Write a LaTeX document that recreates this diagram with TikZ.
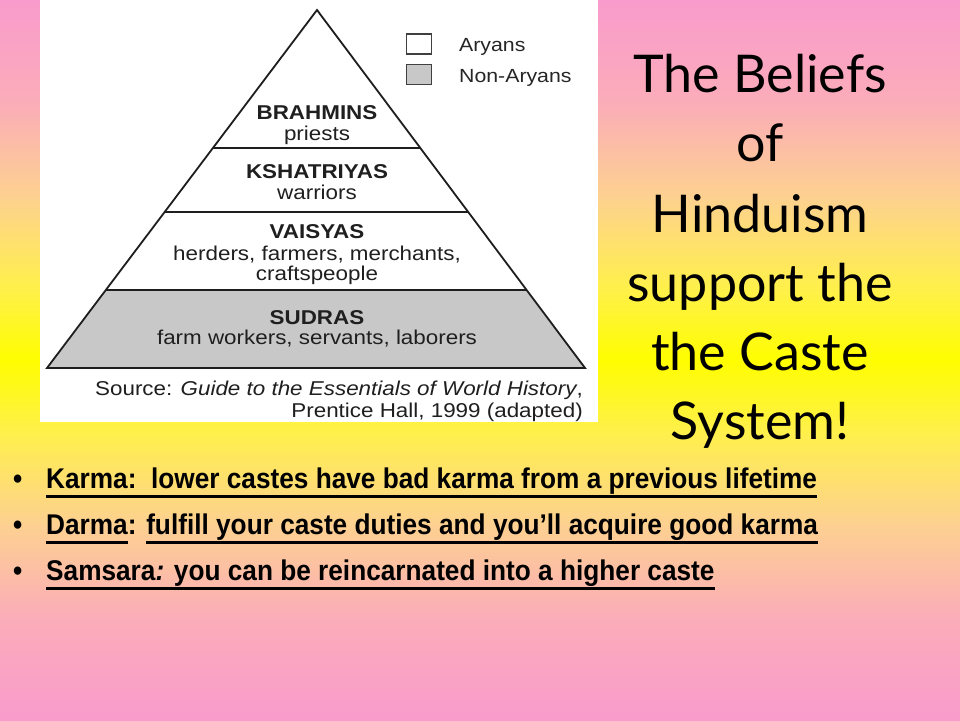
\documentclass[tikz,border=0pt]{standalone}
\usepackage{fontspec}
\setmainfont{Liberation Sans}
\newfontfamily\pyrfont[FakeStretch=1.12]{Liberation Sans}
\newfontfamily\bulfont[FakeStretch=0.92]{Liberation Sans}
\newfontfamily\ttlfont{Lato}
\definecolor{bgpink}{RGB}{249,155,205}
\definecolor{bgcA}{RGB}{251,172,185}
\definecolor{bgcB}{RGB}{253,208,145}
\definecolor{bgcC}{RGB}{255,240,75}
\definecolor{bgyel}{RGB}{255,253,0}
\definecolor{pyrgray}{RGB}{200,200,200}
\definecolor{pyrline}{RGB}{30,30,30}
\pgfdeclareverticalshading{bgshade}{100bp}{color(0bp)=(bgpink); color(25bp)=(bgpink); color(32bp)=(bgcA); color(38.5bp)=(bgcB); color(45bp)=(bgcC); color(50bp)=(bgyel); color(55bp)=(bgcC); color(61.5bp)=(bgcB); color(68bp)=(bgcA); color(75bp)=(bgpink); color(100bp)=(bgpink)}
\newcommand\myul[1]{\setbox0\hbox{#1}\rlap{\rule[-9.5pt]{\wd0}{3pt}}\box0}
\tikzset{
  pyrtxt/.style={inner sep=0, anchor=base, font=\pyrfont\fontsize{20}{22}\selectfont, text=black!88},
  pyrhead/.style={pyrtxt, font=\pyrfont\bfseries\fontsize{20}{22}\selectfont},
  legtxt/.style={inner sep=0, anchor=base west, font=\pyrfont\fontsize{19}{21}\selectfont, text=black!85},
  legbox/.style={draw=black!75, line width=1.5pt, minimum width=25, minimum height=20, inner sep=0},
  ttltxt/.style={inner sep=0, anchor=base, font=\ttlfont\fontsize{52}{60}\selectfont},
  bultxt/.style={inner sep=0, anchor=base west, font=\bulfont\bfseries\fontsize{28.5}{32}\selectfont},
  pyredge/.style={draw=pyrline, line width=1.8pt, line join=miter}
}
\begin{document}
\begin{tikzpicture}[x=1pt,y=-1pt]
\useasboundingbox (0,0) rectangle (960,720);
\shade[shading=bgshade] (0,0) rectangle (960,720);
\fill[white] (40,0) rectangle (598,422);
% pyramid
\coordinate (apex) at (317,10);
\coordinate (l1) at (213,148);   \coordinate (r1) at (420.4,148);
\coordinate (l2) at (164.7,212); \coordinate (r2) at (468.3,212);
\coordinate (l3) at (105.9,290); \coordinate (r3) at (526.7,290);
\coordinate (bl) at (47,368);    \coordinate (br) at (585,368);
\fill[pyrgray] (l3) -- (r3) -- (br) -- (bl) -- cycle;
\draw[pyredge] (apex) -- (br) -- (bl) -- cycle;
\draw[pyredge] (l1) -- (r1);
\draw[pyredge] (l2) -- (r2);
\draw[pyredge] (l3) -- (r3);
% legend
\node[legbox, fill=white] (lbA) at (419,44) {};
\node[legbox, fill=pyrgray] (lbN) at (419,74.5) {};
\node[legtxt] (ltA) at (459,51) {Aryans};
\node[legtxt] (ltN) at (459,82) {Non-Aryans};
% pyramid labels
\node[pyrhead] (brah) at (317,119) {BRAHMINS};
\node[pyrtxt] (brahs) at (317,140) {priests};
\node[pyrhead] (ksha) at (317,178) {KSHATRIYAS};
\node[pyrtxt] (kshas) at (317,199) {warriors};
\node[pyrhead] (vais) at (317,238) {VAISYAS};
\node[pyrtxt] (vaiss) at (317,260) {herders, farmers, merchants,};
\node[pyrtxt] (vaist) at (317,280) {craftspeople};
\node[pyrhead] (sudr) at (317,324) {SUDRAS};
\node[pyrtxt] (sudrs) at (317,344) {farm workers, servants, laborers};
\node[pyrtxt, anchor=base east] (src1) at (583,395) {Source: \textit{Guide to the Essentials of World History},};
\node[pyrtxt, anchor=base east] (src2) at (583,417) {Prentice Hall, 1999 (adapted)};
% title
\node[ttltxt] (t1) at (760,92) {The Beliefs};
\node[ttltxt] (t2) at (760,161) {of};
\node[ttltxt] (t3) at (760,232) {Hinduism};
\node[ttltxt] (t4) at (760,301) {support the};
\node[ttltxt] (t5) at (760,370) {the Caste};
\node[ttltxt] (t6) at (760,439) {System!};
% bullets
\node[bultxt] (b1) at (13,488) {•};
\node[bultxt] (b2) at (13,534) {•};
\node[bultxt] (b3) at (13,580) {•};
\node[bultxt] (k1) at (46,488) {\myul{Karma:\ \ lower castes have bad karma from a previous lifetime}};
\node[bultxt] (k2) at (46,534) {\myul{Darma}: \myul{fulfill your caste duties and you’ll acquire good karma}};
\node[bultxt] (k3) at (46,580) {\myul{Samsara\textit{:} you can be reincarnated into a higher caste}};
\end{tikzpicture}
\end{document}
